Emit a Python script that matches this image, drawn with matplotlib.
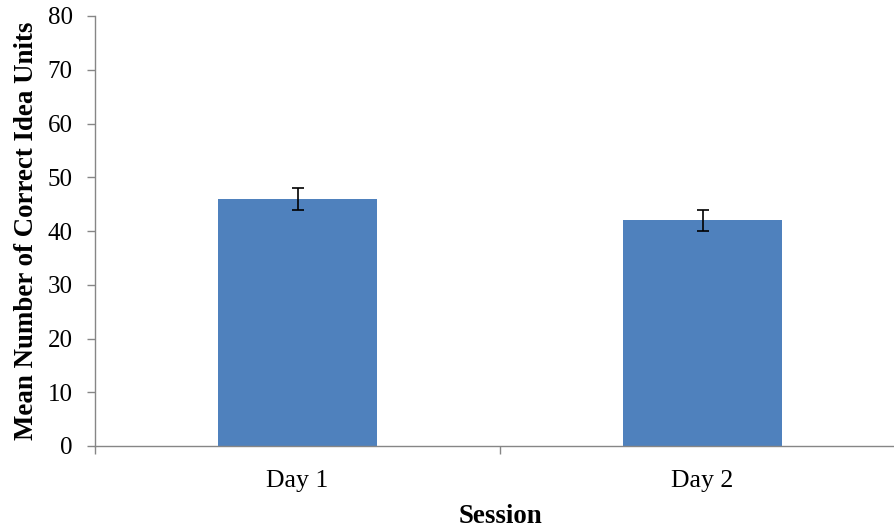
import matplotlib
matplotlib.use("Agg")
import matplotlib.pyplot as plt
import numpy as np

categories = ["Day 1", "Day 2"]
means = [46, 42]
errors = [2, 2]
y_ticks = [0, 10, 20, 30, 40, 50, 60, 70, 80]

plt.rcParams['font.family'] = ['Liberation Serif', 'DejaVu Serif']

fig = plt.figure(figsize=(8.95, 5.29), dpi=100)
ax = fig.add_axes([95/895, (529-446)/529, 810/895, 430/529])

x = np.arange(len(categories))
ax.bar(x, means, width=0.395, color='#4F81BD', zorder=2)
ax.errorbar(x, means, yerr=errors, fmt='none', ecolor='black', elinewidth=1.2,
            capsize=4.5, capthick=1.2, zorder=3)

ax.set_xlim(-0.5, len(categories) - 0.5)
ax.set_ylim(0, 80)
ax.set_yticks(y_ticks)
ax.set_yticklabels([str(v) for v in y_ticks], fontsize=18)

ax.set_xticks(np.arange(len(categories) + 1) - 0.5)
ax.set_xticklabels([])
ax.set_xticks(x, minor=True)
ax.set_xticklabels(categories, minor=True, fontsize=18.5)
ax.tick_params(axis='x', which='minor', length=0, pad=17)
ax.tick_params(axis='x', which='major', length=6, color='#868686', width=1)
ax.tick_params(axis='y', length=6, color='#868686', width=1, pad=10)

for s in ['top', 'right']:
    ax.spines[s].set_visible(False)
for s in ['left', 'bottom']:
    ax.spines[s].set_color('#868686')
    ax.spines[s].set_linewidth(1)

ax.set_ylabel('Mean Number of Correct Idea Units', fontsize=19.4, fontweight='bold', labelpad=6)
ax.set_xlabel('Session', fontsize=19.4, fontweight='bold', labelpad=9)

fig.savefig('out.png', dpi=100)
